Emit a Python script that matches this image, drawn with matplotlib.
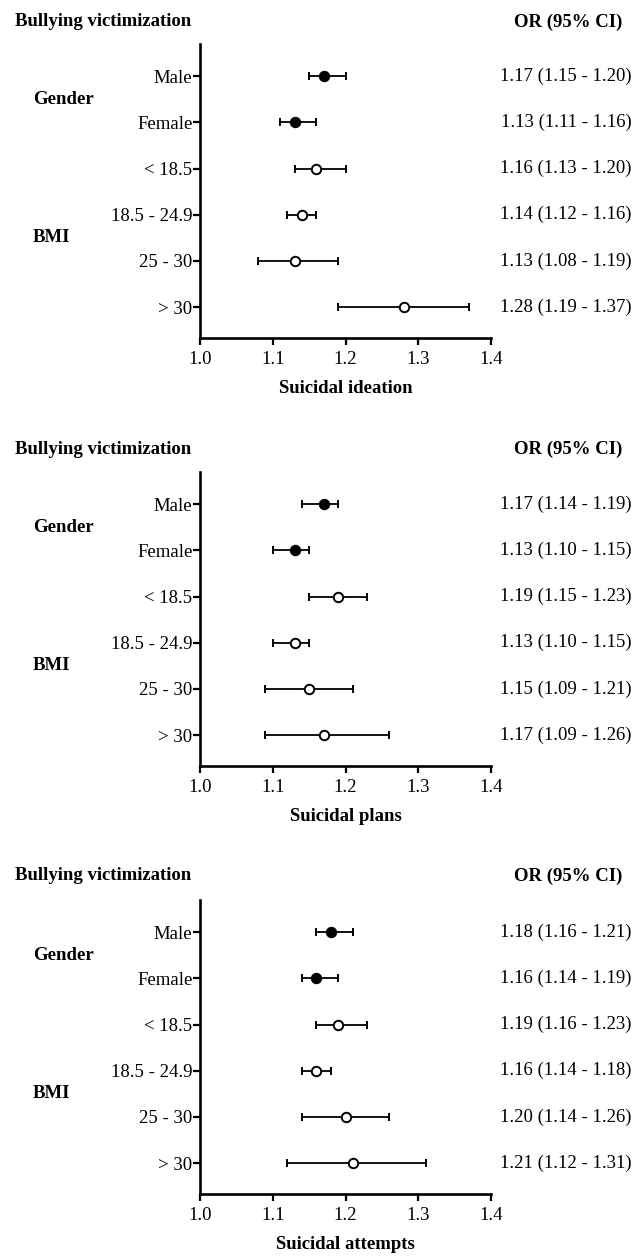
import matplotlib
matplotlib.use("Agg")
import matplotlib.pyplot as plt
import matplotlib.transforms as mtransforms

plt.rcParams['font.family'] = ['Liberation Serif', 'DejaVu Serif']

# rows, top to bottom
row_labels = ['Male', 'Female', '< 18.5', '18.5 - 24.9', '25 - 30', '> 30']
filled = [True, True, False, False, False, False]
group_names = ['Gender', 'BMI']
group_rows = [0.5, 3.5]

outcomes = ['Suicidal ideation', 'Suicidal plans', 'Suicidal attempts']

ideation_or = [1.17, 1.13, 1.16, 1.14, 1.13, 1.28]
ideation_lo = [1.15, 1.11, 1.13, 1.12, 1.08, 1.19]
ideation_hi = [1.20, 1.16, 1.20, 1.16, 1.19, 1.37]

plans_or = [1.17, 1.13, 1.19, 1.13, 1.15, 1.17]
plans_lo = [1.14, 1.10, 1.15, 1.10, 1.09, 1.09]
plans_hi = [1.19, 1.15, 1.23, 1.15, 1.21, 1.26]

attempts_or = [1.18, 1.16, 1.19, 1.16, 1.20, 1.21]
attempts_lo = [1.16, 1.14, 1.16, 1.14, 1.14, 1.12]
attempts_hi = [1.21, 1.19, 1.23, 1.18, 1.26, 1.31]

x_ticks = [1.0, 1.1, 1.2, 1.3, 1.4]

panels = [
    (ideation_or, ideation_lo, ideation_hi),
    (plans_or, plans_lo, plans_hi),
    (attempts_or, attempts_lo, attempts_hi),
]

W, H = 640, 1256
fig = plt.figure(figsize=(W / 100, H / 100), dpi=100)

ax_left, ax_right = 200, 491
step = 428  # vertical offset between panels, px

FS = 13.5
for i, (vals, lo, hi) in enumerate(panels):
    top, bot = 44 + step * i, 338 + step * i
    ax = fig.add_axes([ax_left / W, 1 - bot / H, (ax_right - ax_left) / W, (bot - top) / H])
    ys = list(range(len(row_labels)))
    for y, v, l, h, f in zip(ys, vals, lo, hi, filled):
        ax.errorbar(v, y, xerr=[[v - l], [h - v]], fmt='o', color='black',
                    ms=6.8, mfc='black' if f else 'white', mec='black', mew=1.4,
                    elinewidth=1.3, capsize=2.8, capthick=1.3, zorder=3)
    ax.set_xlim(1.0, 1.4)
    ax.set_ylim(5.67, -0.7)
    ax.set_xticks(x_ticks)
    ax.set_xticklabels([f'{t:.1f}' for t in x_ticks])
    ax.set_yticks(ys)
    ax.set_yticklabels(row_labels)
    ax.tick_params(axis='both', labelsize=FS, width=1.6, length=5, color='black')
    ax.tick_params(axis='y', pad=0.5)
    ax.tick_params(axis='x', pad=4)
    for s in ['top', 'right']:
        ax.spines[s].set_visible(False)
    for s in ['left', 'bottom']:
        ax.spines[s].set_linewidth(1.9)
    ax.set_xlabel(outcomes[i], fontsize=FS, fontweight='bold', labelpad=9)

    trans = mtransforms.blended_transform_factory(fig.transFigure, ax.transData)
    for g, gy in zip(group_names, group_rows):
        ax.text(33 / W, gy, g, transform=trans, fontsize=FS, fontweight='bold',
                ha='left', va='center')
    for y, v, l, h in zip(ys, vals, lo, hi):
        ax.text(632 / W, y, f'{v:.2f} ({l:.2f} - {h:.2f})', transform=trans,
                fontsize=FS, ha='right', va='center')

    hy = 1 - (22 + step * i - i) / H
    fig.text(15 / W, hy, 'Bullying victimization', fontsize=FS,
             fontweight='bold', ha='left', va='center')
    fig.text(622 / W, hy, 'OR (95% CI)', fontsize=FS,
             fontweight='bold', ha='right', va='center')

fig.savefig('out.png', dpi=100)
